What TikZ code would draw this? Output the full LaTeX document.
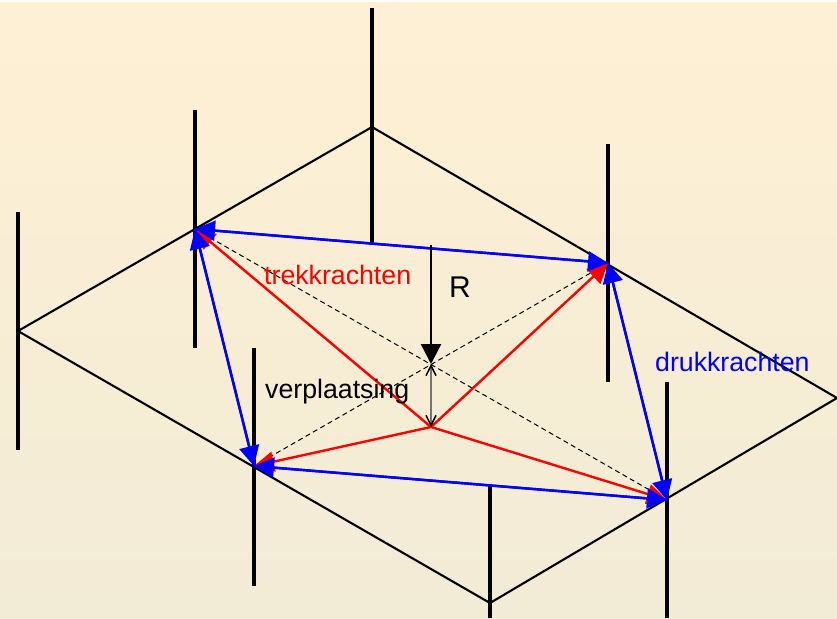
\documentclass[tikz,border=0pt]{standalone}
\usepackage{fontspec}
\setmainfont{Liberation Sans}
\usetikzlibrary{arrows.meta}
\definecolor{bgtop}{HTML}{FEF0D4}
\definecolor{bgbot}{HTML}{F2EBD6}
\definecolor{myblue}{HTML}{0000FF}
\definecolor{myred}{HTML}{FF0000}
\tikzset{
  post/.style={line width=4pt},
  frame/.style={line width=2.1pt},
  blueforce/.style={myblue,line width=2.4pt,-{Triangle[length=20pt,width=20pt]}},
  redforce/.style={myred,line width=2.4pt,-{Triangle[length=20pt,width=20pt]}},
  guide/.style={line width=1pt,dash pattern=on 5pt off 3.5pt},
  lbl/.style={inner sep=0pt,font=\fontsize{26.7pt}{28pt}\selectfont},
}
\begin{document}
\begin{tikzpicture}[x=1pt,y=-1pt]
\useasboundingbox (0,0) rectangle (837,618);
\shade[top color=bgtop,bottom color=bgbot] (0,3) rectangle (837,618);
% junctions
\coordinate (L) at (18,331);
\coordinate (T) at (372,127);
\coordinate (Rr) at (837,398);
\coordinate (B) at (490,603);
\coordinate (A) at (195,229);
\coordinate (C) at (254,466);
\coordinate (D) at (608,263);
\coordinate (E) at (667,500);
\coordinate (P) at (431,427);
\coordinate (Q) at (431,364);
\coordinate (S) at (431,245);
% rhombus
\draw[frame,line join=miter] (L) -- (T) -- (Rr) -- (B) -- cycle;
% posts
\coordinate (t1) at (372,8); \coordinate (t2) at (372,245);
\coordinate (l1) at (18,212); \coordinate (l2) at (18,450);
\coordinate (a1) at (195,110); \coordinate (a2) at (195,348);
\coordinate (c1) at (254,348); \coordinate (c2) at (254,586);
\coordinate (d1) at (608,144); \coordinate (d2) at (608,382);
\coordinate (e1) at (667,382); \coordinate (e2) at (667,618);
\coordinate (b1) at (490,484); \coordinate (b2) at (490,618);
\draw[post] (t1)--(t2);
\draw[post] (l1)--(l2);
\draw[post] (a1)--(a2);
\draw[post] (c1)--(c2);
\draw[post] (d1)--(d2);
\draw[post] (e1)--(e2);
\draw[post] (b1)--(b2);
% dashed diagonals
\draw[guide] (A)--(E);
\draw[guide] (C)--(D);
% red
\draw[redforce] (P)--(A);
\draw[redforce] (P)--(C);
\draw[redforce] (P)--(D);
\draw[redforce] (P)--(E);
% blue
\draw[blueforce] (A)--(D);
\draw[blueforce] (D)--(A);
\draw[blueforce] (A)--(C);
\draw[blueforce] (C)--(A);
\draw[blueforce] (C)--(E);
\draw[blueforce] (E)--(C);
\draw[blueforce] (D)--(E);
\draw[blueforce] (E)--(D);
% displacement
\draw[line width=1.5pt,black!55,{Straight Barb[length=10pt,width=10pt,black]}-{Straight Barb[length=10pt,width=10pt,black]}] (Q)--(P);
\draw[line width=2.4pt,-{Triangle[length=20pt,width=20pt]}] (S)--(Q);
% labels
\node[lbl,myred,anchor=base west] (n1) at (264,284) {trekkrachten};
\node[lbl,myblue,anchor=base west] (n2) at (655,371) {drukkrachten};
\node[lbl,anchor=base west] (n3) at (265,398) {verplaatsing};
\node[lbl,anchor=base west,font=\fontsize{30pt}{31pt}\selectfont] (n4) at (449,297) {R};
\end{tikzpicture}
\end{document}
